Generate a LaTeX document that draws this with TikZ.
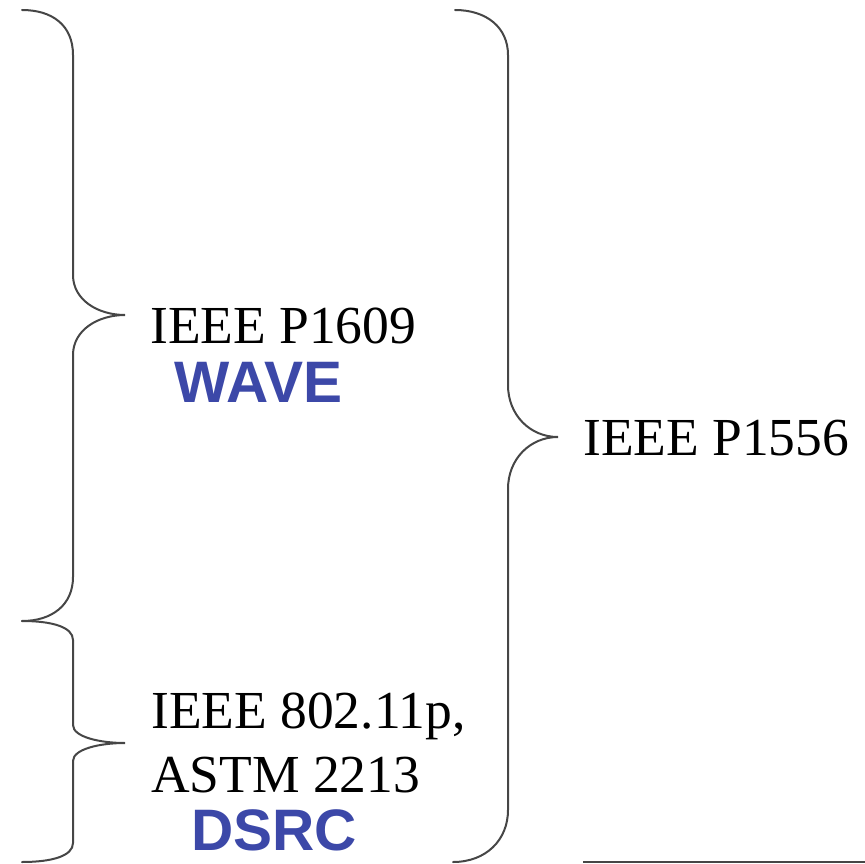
\documentclass[tikz,border=0pt]{standalone}
\usepackage{fontspec}
\setmainfont{Liberation Serif}
\newfontfamily\bluesans{Liberation Sans}
\definecolor{labelblue}{RGB}{60,72,168}
\definecolor{bracegray}{RGB}{70,70,70}
\begin{document}
\begin{tikzpicture}[x=1pt,y=-1pt,
  bracestyle/.style={draw=bracegray,line width=2pt,line cap=round},
  stdtext/.style={anchor=base west,inner sep=0pt,font=\fontsize{53.5}{64}\selectfont,align=left},
  bluetext/.style={anchor=base,inner sep=0pt,text=labelblue,font=\bluesans\bfseries\fontsize{58.5}{64}\selectfont}]
\useasboundingbox (0,0) rectangle (865,864);
% brace 1 (P1609)
\draw[bracestyle] (22,10) .. controls (52,10) and (73,25) .. (73,55) -- (73,275)
  .. controls (73,300) and (98,315) .. (125,315)
  .. controls (98,315) and (73,330) .. (73,355) -- (73,577)
  .. controls (73,605) and (52,621) .. (22,621);
% brace 2 (DSRC)
\draw[bracestyle] (22,621) .. controls (52,621) and (73,627) .. (73,640) -- (73,725)
  .. controls (73,737) and (100,743) .. (125,743)
  .. controls (100,743) and (73,749) .. (73,761) -- (73,843)
  .. controls (73,856) and (52,862) .. (22,862);
% big brace (P1556)
\draw[bracestyle] (455,10) .. controls (486,10) and (508,27) .. (508,55) -- (508,385)
  .. controls (508,415) and (530,437) .. (558,437)
  .. controls (530,437) and (508,459) .. (508,489) -- (508,810)
  .. controls (508,840) and (486,862) .. (453,862);
% bottom rule
\coordinate (ruleA) at (583,862);
\coordinate (ruleB) at (866,862);
\draw[draw=bracegray,line width=2pt] (ruleA) -- (ruleB);
% texts
\node[stdtext] (p1609) at (150,343) {IEEE P1609};
\node[bluetext] (wave) at (258.5,402) {WAVE};
\node[stdtext] (p1556) at (583,455) {IEEE P1556};
\node[stdtext] (ieee80211p) at (151,728) {IEEE 802.11p,};
\node[stdtext] (astm) at (151,792) {ASTM 2213};
\node[bluetext] (dsrc) at (274,850) {DSRC};
\end{tikzpicture}
\end{document}
